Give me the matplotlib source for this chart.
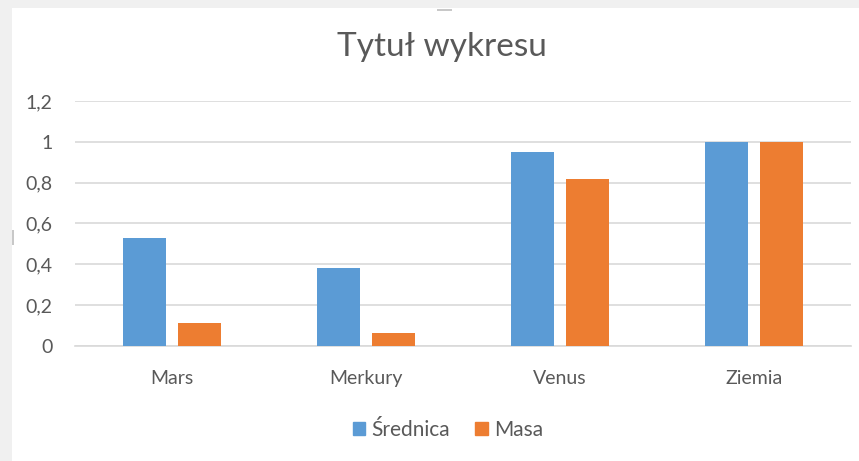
import matplotlib.pyplot as plt
import numpy as np
from matplotlib.patches import Rectangle

plt.rcParams['font.family'] = ['Lato', 'DejaVu Sans']

planety = ['Mars', 'Merkury', 'Venus', 'Ziemia']
srednica = [0.53, 0.38, 0.95, 1.0]
masa = [0.115, 0.065, 0.82, 1.0]
yticks = [0, 0.2, 0.4, 0.6, 0.8, 1.0, 1.2]
ylabels = ['0', '0,2', '0,4', '0,6', '0,8', '1', '1,2']

fig = plt.figure(figsize=(8.59, 4.61), dpi=100)
fig.patch.set_facecolor('#f0f0f0')
fig.patches.append(Rectangle((12/859, 0), 1, 1 - 8/461, transform=fig.transFigure,
                             facecolor='white', edgecolor='none', zorder=0))
# selection handles
fig.patches.append(Rectangle((437/859, 1 - 11/461), 15/859, 2/461, transform=fig.transFigure,
                             facecolor='#c8c8c8', edgecolor='none', zorder=1))
fig.patches.append(Rectangle((12/859, 1 - 245/461), 2/859, 15/461, transform=fig.transFigure,
                             facecolor='#c8c8c8', edgecolor='none', zorder=1))

ax = fig.add_axes([75/859, 1 - 346/461, 776/859, 245/461])
ax.set_zorder(3)
ax.set_facecolor('none')

x = np.arange(len(planety))
w = 0.225
ax.bar(x - 0.142, srednica, w, color='#5B9BD5', zorder=3)
ax.bar(x + 0.142, masa, w, color='#ED7D31', zorder=3)

ax.set_xlim(-0.5, 3.5)
ax.set_ylim(0, 1.2)
ax.set_yticks(yticks)
ax.set_yticklabels(ylabels)
ax.set_xticks(x)
ax.set_xticklabels(planety)
ax.grid(axis='y', color='#d9d9d9', linewidth=1.2, zorder=0)
for s in ['top', 'right', 'left']:
    ax.spines[s].set_visible(False)
ax.spines['bottom'].set_color('#d9d9d9')
ax.spines['bottom'].set_linewidth(1.2)
ax.tick_params(axis='both', length=0, labelsize=14, labelcolor='#595959')
ax.tick_params(axis='y', pad=16)
ax.tick_params(axis='x', pad=17)

fig.text(442/859, 1 - 47/461, 'Tytuł wykresu', ha='center', va='center',
         fontsize=24, color='#595959')

handles = [Rectangle((0, 0), 1, 1, color='#5B9BD5'), Rectangle((0, 0), 1, 1, color='#ED7D31')]
fig.legend(handles, ['Średnica', 'Masa'], loc='center', bbox_to_anchor=(448/859, 1 - 430/461),
           ncol=2, frameon=False, fontsize=15, labelcolor='#595959',
           handlelength=0.6, handleheight=0.6, handletextpad=0.3, columnspacing=1.2)

fig.savefig('out.png', dpi=100)
